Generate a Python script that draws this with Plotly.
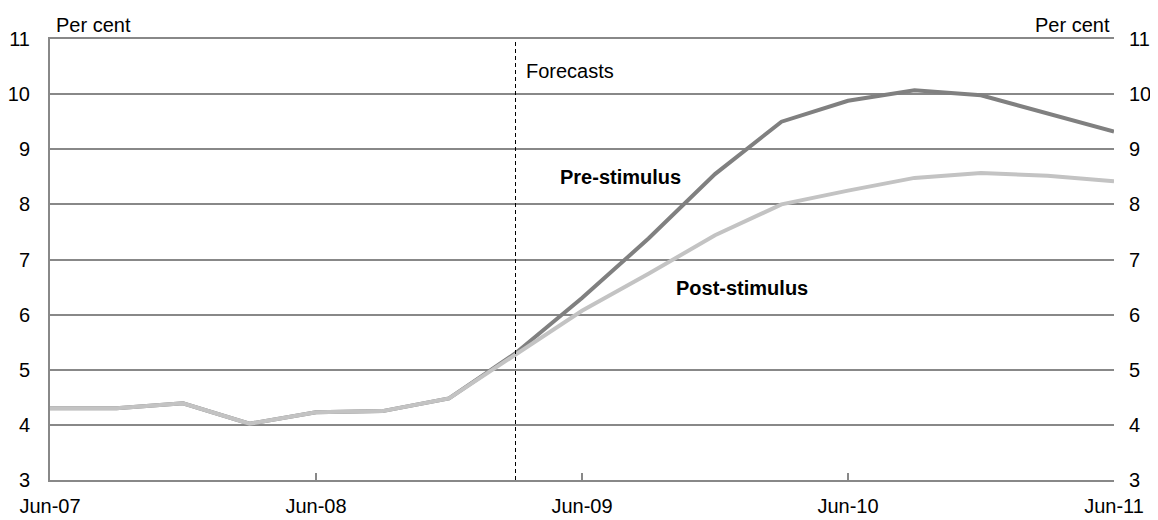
import plotly.graph_objects as go

quarters = ['Jun-07', 'Sep-07', 'Dec-07', 'Mar-08', 'Jun-08', 'Sep-08', 'Dec-08', 'Mar-09',
            'Jun-09', 'Sep-09', 'Dec-09', 'Mar-10', 'Jun-10', 'Sep-10', 'Dec-10', 'Mar-11', 'Jun-11']
pre_stimulus = [4.30, 4.30, 4.39, 4.02, 4.23, 4.25, 4.48, 5.30, 6.30, 7.38, 8.55, 9.50,
                9.88, 10.07, 9.98, 9.65, 9.32]
post_stimulus = [4.30, 4.30, 4.39, 4.02, 4.23, 4.25, 4.48, 5.28, 6.07, 6.74, 7.44, 8.00,
                 8.25, 8.48, 8.57, 8.52, 8.42]
x_ticks = ['Jun-07', 'Jun-08', 'Jun-09', 'Jun-10', 'Jun-11']
y_ticks = [3, 4, 5, 6, 7, 8, 9, 10, 11]
forecast_start = 'Mar-09'

FONT = 'Liberation Sans, Arial, sans-serif'
GRID = '#888888'
FS = 20

fig = go.Figure()
fig.add_trace(go.Scatter(x=quarters, y=pre_stimulus, mode='lines', name='Pre-stimulus',
                         line=dict(color='#808080', width=4), showlegend=False))
fig.add_trace(go.Scatter(x=quarters, y=post_stimulus, mode='lines', name='Post-stimulus',
                         line=dict(color='#c3c3c3', width=4), showlegend=False))
# invisible trace to activate right axis
fig.add_trace(go.Scatter(x=quarters, y=post_stimulus, yaxis='y2', mode='lines',
                         line=dict(width=0), opacity=0, hoverinfo='skip', showlegend=False))

fig.add_shape(type='line', xref='x', yref='paper', x0=forecast_start, x1=forecast_start,
              y0=0, y1=1, line=dict(color='black', width=1, dash='4px,3px'))

# page body has an 8px margin, so the figure is 8px smaller than the window
fig.update_layout(
    width=1150, height=512,
    margin=dict(l=42, r=44, t=31, b=40, autoexpand=False),
    paper_bgcolor='white', plot_bgcolor='white',
    font=dict(family=FONT, size=FS, color='black'),
    xaxis=dict(type='category', categoryorder='array', categoryarray=quarters,
               range=[0, len(quarters) - 1], tickvals=x_ticks, ticktext=x_ticks,
               ticks='inside', ticklen=7, tickcolor=GRID, tickwidth=2,
               showline=True, linecolor=GRID, linewidth=2, mirror=True,
               showgrid=False, zeroline=False, ticklabelstandoff=7, automargin=False,
               tickfont=dict(size=FS)),
    yaxis=dict(range=[3, 11], tickvals=y_ticks, showgrid=True, gridcolor=GRID, gridwidth=2,
               showline=True, linecolor=GRID, linewidth=2, ticks='', zeroline=False,
               ticklabelstandoff=14, automargin=False, tickfont=dict(size=FS)),
    yaxis2=dict(range=[3, 11], tickvals=y_ticks, overlaying='y', side='right',
                showgrid=False, showline=False, ticks='', zeroline=False,
                ticklabelstandoff=14, automargin=False, tickfont=dict(size=FS)),
    annotations=[
        dict(text='Per cent', xref='paper', yref='paper', x=0.004, y=1.0, xanchor='left',
             yanchor='bottom', showarrow=False, font=dict(size=FS), yshift=1),
        dict(text='Per cent', xref='paper', yref='paper', x=0.998, y=1.0, xanchor='right',
             yanchor='bottom', showarrow=False, font=dict(size=FS), yshift=1),
        dict(text='Forecasts', xref='x', yref='y', x=forecast_start, y=10.42, xanchor='left',
             yanchor='middle', xshift=8, showarrow=False, font=dict(size=FS)),
        dict(text='<b>Pre-stimulus</b>', xref='x', yref='y', x='Jun-09', y=8.5,
             xanchor='center', yanchor='middle', xshift=38, showarrow=False, font=dict(size=FS)),
        dict(text='<b>Post-stimulus</b>', xref='x', yref='y', x='Dec-09', y=6.48,
             xanchor='center', yanchor='middle', xshift=27, showarrow=False, font=dict(size=FS)),
    ],
)

fig.write_html('out.html')
